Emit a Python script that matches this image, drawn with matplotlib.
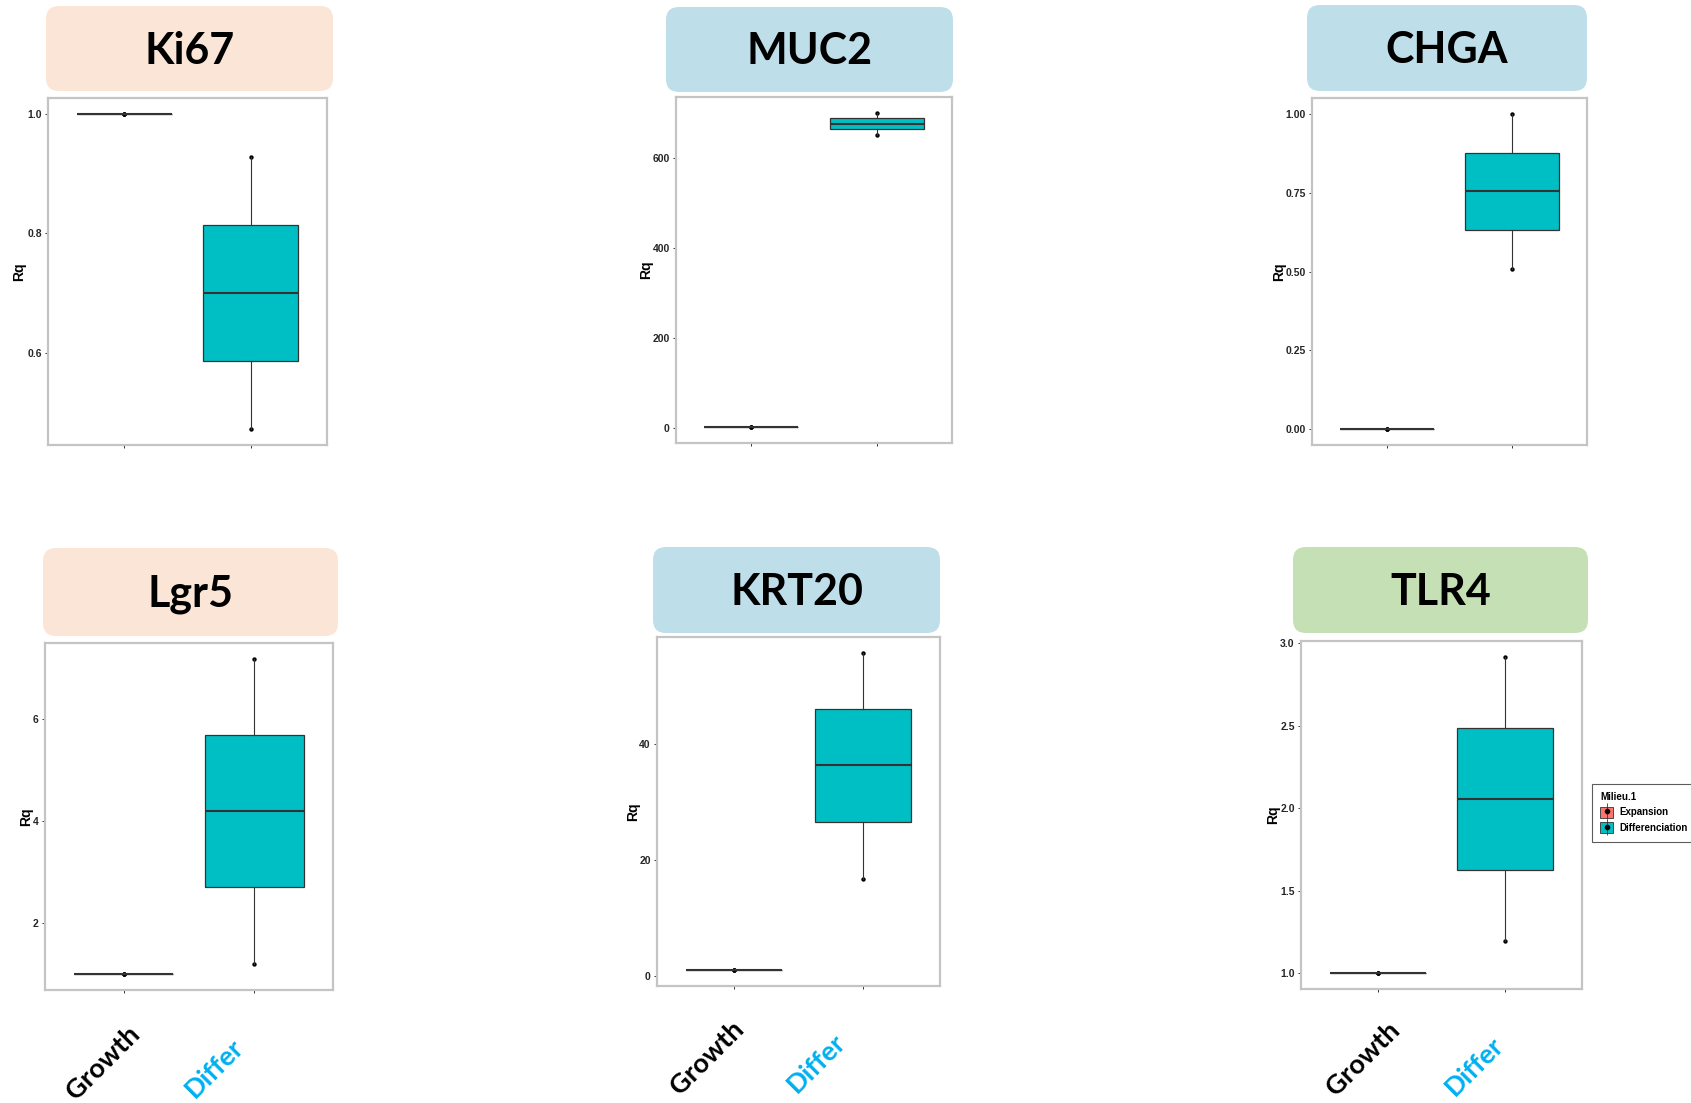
import numpy as np
import matplotlib.pyplot as plt
from matplotlib.patches import FancyBboxPatch, Patch
from matplotlib.lines import Line2D

plt.rcParams['font.family'] = ['Liberation Sans', 'DejaVu Sans']

W, H = 1691, 1103

# Rq values, three replicates per condition
genes = ["Ki67", "MUC2", "CHGA", "Lgr5", "KRT20", "TLR4"]
groups = ["Growth", "Differ"]

ki67_growth = [1.0, 1.0, 1.0]
ki67_differ = [0.473, 0.701, 0.928]
muc2_growth = [1.0, 1.0, 1.0]
muc2_differ = [650, 676, 700]
chga_growth = [0.0, 0.0, 0.0]
chga_differ = [0.507, 0.754, 1.0]
lgr5_growth = [1.0, 1.0, 1.0]
lgr5_differ = [1.20, 4.21, 7.19]
krt20_growth = [1.0, 1.0, 1.0]
krt20_differ = [16.7, 36.3, 55.7]
tlr4_growth = [1.0, 1.0, 1.0]
tlr4_differ = [1.195, 2.054, 2.916]

growth_vals = [ki67_growth, muc2_growth, chga_growth, lgr5_growth, krt20_growth, tlr4_growth]
differ_vals = [ki67_differ, muc2_differ, chga_differ, lgr5_differ, krt20_differ, tlr4_differ]

yticks = [[0.6, 0.8, 1.0], [0, 200, 400, 600], [0.0, 0.25, 0.5, 0.75, 1.0],
          [2, 4, 6], [0, 20, 40], [1.0, 1.5, 2.0, 2.5, 3.0]]
yticklabels = [["0.6", "0.8", "1.0"], ["0", "200", "400", "600"],
               ["0.00", "0.25", "0.50", "0.75", "1.00"], ["2", "4", "6"],
               ["0", "20", "40"], ["1.0", "1.5", "2.0", "2.5", "3.0"]]

legend_title = "Milieu.1"
legend_labels = ["Expansion", "Differenciation"]

# layout in pixels: panel frames (left, top, right, bottom)
frames = [(48, 98, 327, 445), (676, 97, 952, 443), (1312, 98, 1587, 445),
          (45, 643, 333, 990), (657, 637, 940, 986), (1301, 641, 1582, 989)]
title_boxes = [(46, 6, 333, 91), (666, 7, 953, 92), (1307, 5, 1587, 91),
               (43, 548, 338, 636), (653, 547, 940, 633), (1293, 547, 1588, 633)]
title_colors = ["#FBE5D6", "#BEDFEA", "#BEDFEA", "#FBE5D6", "#BEDFEA", "#C5E0B4"]
rq_gap = [29, 30, 33, 19, 24, 28]
# rotated group labels under bottom row: (right, top) of each label
group_label_pos = [[(144, 1022), (248, 1035)],
                   [(748, 1017), (850, 1030)],
                   [(1404, 1018), (1508, 1033)]]
group_colors = ["black", "#00B0F0"]

fill_colors = ["#F8766D", "#00BFC4"]
edge = "#333333"

fig = plt.figure(figsize=(W / 100, H / 100), dpi=100)
fig.patch.set_facecolor("white")

for k, gene in enumerate(genes):
    l, t, r, b = frames[k]
    ax = fig.add_axes([l / W, 1 - b / H, (r - l) / W, (b - t) / H])
    data = [growth_vals[k], differ_vals[k]]

    for i, vals in enumerate(data):
        ax.scatter(np.full(len(vals), i + 1), vals, s=10, color="black", zorder=1, linewidths=0)

    bp = ax.boxplot(data, positions=[1, 2], widths=0.75, whis=(0, 100), showfliers=False,
                    showcaps=False, patch_artist=True, zorder=2,
                    boxprops=dict(edgecolor=edge, linewidth=0.9),
                    medianprops=dict(color=edge, linewidth=1.5),
                    whiskerprops=dict(color=edge, linewidth=0.8))
    for patch, c in zip(bp["boxes"], fill_colors):
        patch.set_facecolor(c)

    allv = np.concatenate(data)
    lo, hi = allv.min(), allv.max()
    pad = 0.05 * (hi - lo)
    ax.set_ylim(lo - pad, hi + pad)
    ax.set_xlim(0.4, 2.6)

    ax.set_xticks([1, 2])
    ax.set_xticklabels([])
    ax.set_yticks(yticks[k], yticklabels[k], fontweight="bold", fontsize=7.5)
    ax.tick_params(axis="both", length=2.5, width=0.7, color=edge, labelcolor="#262626", pad=2)
    for s in ax.spines.values():
        s.set_color("#C4C4C4")
        s.set_linewidth(1.6)

    ax.annotate("Rq", xy=(0, 0.5), xycoords="axes fraction", xytext=(-rq_gap[k], 0),
                textcoords="offset pixels", rotation=90, ha="center", va="center",
                fontsize=10, fontweight="bold")

    # title tag above each panel
    x0, y0, x1, y1 = title_boxes[k]
    tag = FancyBboxPatch((x0 / 100, (H - y1) / 100), (x1 - x0) / 100, (y1 - y0) / 100,
                         boxstyle="round,pad=0,rounding_size=0.13",
                         transform=fig.dpi_scale_trans, facecolor=title_colors[k],
                         edgecolor="none")
    fig.add_artist(tag)
    fig.text((x0 + x1) / 2 / W, 1 - ((y0 + y1) / 2 + 2) / H, gene, ha="center", va="center",
             fontsize=31, fontweight="bold", family="Lato")

for row in group_label_pos:
    for (gx, gy), name, c in zip(row, groups, group_colors):
        fig.text(gx / W, 1 - gy / H, name, rotation=45, ha="right", va="top",
                 fontsize=19.5, fontweight="bold", color=c, family="Lato")

handles = []
for c in fill_colors:
    handles.append((Patch(facecolor=c, edgecolor=edge, linewidth=0.6),
                    Line2D([], [], marker="|", color=edge, markersize=12, linestyle="None", markeredgewidth=0.6),
                    Line2D([], [], marker="o", color="black", markersize=3, linestyle="None")))
leg = fig.legend(handles, legend_labels, title=legend_title, loc="upper left",
                 bbox_to_anchor=(1592 / W, 1 - 784 / H), borderaxespad=0, fontsize=7,
                 title_fontproperties={"weight": "bold", "size": 7},
                 frameon=True, fancybox=False, edgecolor=edge, handlelength=1.35,
                 handleheight=1.4, handletextpad=0.65, borderpad=0.85, labelspacing=0.45)
leg._legend_box.align = "left"
leg.get_frame().set_linewidth(0.8)
for txt in leg.get_texts():
    txt.set_fontweight("bold")

fig.savefig("out.png", dpi=100)
